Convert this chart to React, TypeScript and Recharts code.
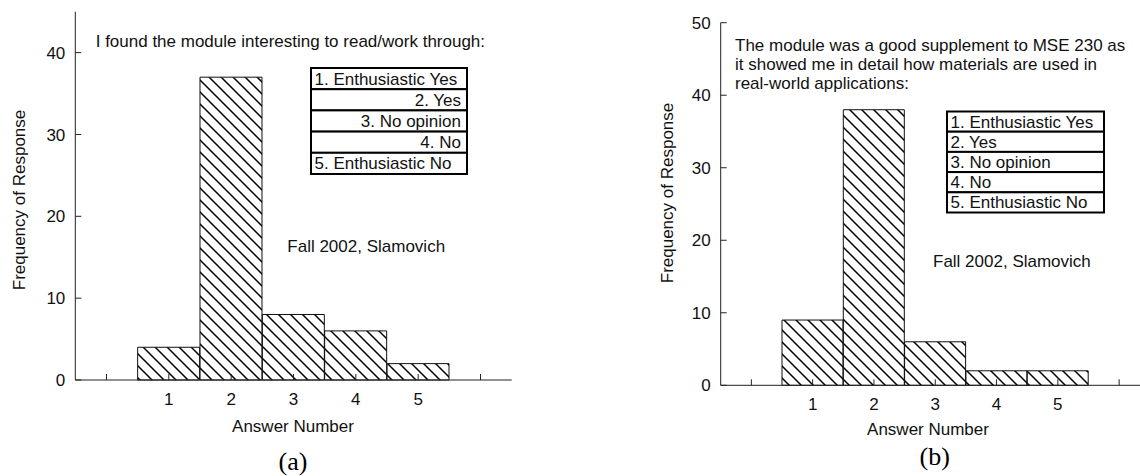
import React from "react";
import { Bar, BarChart, XAxis, YAxis } from "recharts";

// survey answers (x positions) and response counts
const answers = [1, 2, 3, 4, 5];
const freqA = [4, 37, 8, 6, 2];
const freqB = [9, 38, 6, 2, 2];

// axis ticks
const xTicks = [0, 1, 2, 3, 4, 5, 6];
const yTicksA = [0, 10, 20, 30, 40];
const yTicksB = [0, 10, 20, 30, 40, 50];

const legendItems = [
  "1. Enthusiastic Yes",
  "2. Yes",
  "3. No opinion",
  "4. No",
  "5. Enthusiastic No",
];
// panel (a) has some entries right-aligned
const legendAlignA = ["start", "end", "end", "end", "start"];

const titleA = ["I found the module interesting to read/work through:"];
const titleB = [
  "The module was a good supplement to MSE 230 as",
  "it showed me in detail how materials are used in",
  "real-world applications:",
];
const note = "Fall 2002, Slamovich";

const FONT = "'Liberation Sans', Arial, Helvetica, sans-serif";
const INK = "#111";

const dataA = answers.map((a, i) => ({ answer: a, freq: freqA[i] }));
const dataB = answers.map((a, i) => ({ answer: a, freq: freqB[i] }));

const tickStyle = { fontSize: 17, fill: INK, fontFamily: FONT };
const lineStyle = { stroke: "#222", strokeWidth: 1 };

function xLabel(v: number) {
  return answers.includes(v) ? String(v) : "";
}

function Hatch({ id }: { id: string }) {
  return (
    <defs>
      <pattern id={id} width="12" height="12" patternUnits="userSpaceOnUse">
        <path
          d="M0,0 L12,12 M-2,10 L2,14 M10,-2 L14,2"
          stroke="#000"
          strokeWidth={1.5}
        />
      </pattern>
    </defs>
  );
}

type PanelProps = {
  data: { answer: number; freq: number }[];
  yMax: number;
  yTicks: number[];
  hatchId: string;
  width: number;
  height: number;
  margin: { top: number; right: number; bottom: number; left: number };
  yAxisWidth: number;
};

function Panel(p: PanelProps) {
  return (
    <BarChart
      width={p.width}
      height={p.height}
      data={p.data}
      margin={p.margin}
      barCategoryGap={0}
      barGap={0}
    >
      <Hatch id={p.hatchId} />
      <XAxis
        xAxisId="bottom"
        dataKey="answer"
        type="number"
        domain={[-0.5, 6.5]}
        ticks={xTicks}
        interval={0}
        height={30}
        tickSize={-6}
        tickMargin={19}
        tickFormatter={xLabel}
        tick={tickStyle}
        axisLine={lineStyle}
        tickLine={lineStyle}
      />
      <XAxis
        xAxisId="top"
        orientation="top"
        dataKey="answer"
        type="number"
        domain={[-0.5, 6.5]}
        ticks={xTicks}
        interval={0}
        height={0}
        tickSize={-6}
        tick={false}
        axisLine={lineStyle}
        tickLine={lineStyle}
      />
      <YAxis
        yAxisId="left"
        type="number"
        domain={[0, p.yMax]}
        ticks={p.yTicks}
        interval={0}
        width={p.yAxisWidth}
        tickSize={-6}
        tickMargin={16}
        tick={tickStyle}
        axisLine={lineStyle}
        tickLine={lineStyle}
      />
      <YAxis
        yAxisId="right"
        orientation="right"
        type="number"
        domain={[0, p.yMax]}
        ticks={p.yTicks}
        interval={0}
        width={0}
        tickSize={-6}
        tick={false}
        axisLine={lineStyle}
        tickLine={lineStyle}
      />
      <Bar
        xAxisId="bottom"
        yAxisId="left"
        dataKey="freq"
        fill={`url(#${p.hatchId})`}
        stroke="#111"
        strokeWidth={1}
        isAnimationActive={false}
      />
    </BarChart>
  );
}

function LegendBox({
  x,
  y,
  w,
  rowH,
  align,
}: {
  x: number;
  y: number;
  w: number;
  rowH: number;
  align: string[];
}) {
  return (
    <g>
      {legendItems.map((t, i) => {
        const top = y + i * rowH;
        const end = align[i] === "end";
        return (
          <g key={t}>
            <rect x={x} y={top} width={w} height={rowH} fill="#fff" stroke="#000" strokeWidth={2} />
            <text
              x={end ? x + w - 6 : x + 3.5}
              y={top + rowH / 2 + 6}
              textAnchor={end ? "end" : "start"}
              fontSize={17}
              fontFamily={FONT}
              fill={INK}
            >
              {t}
            </text>
          </g>
        );
      })}
    </g>
  );
}

function Overlay() {
  const txt = { fontSize: 17, fontFamily: FONT, fill: INK };
  const serif = "'Liberation Serif', 'Times New Roman', serif";
  return (
    <svg
      width={1140}
      height={476}
      style={{ position: "absolute", left: 0, top: 0, pointerEvents: "none" }}
    >
      {/* panel (a) */}
      {titleA.map((t, i) => (
        <text key={t} x={95.7} y={47 + i * 19.2} {...txt}>
          {t}
        </text>
      ))}
      <LegendBox x={311} y={68} w={156} rowH={21.2} align={legendAlignA} />
      <text x={287.3} y={252} {...txt}>
        {note}
      </text>
      <text x={293} y={432} textAnchor="middle" {...txt}>
        Answer Number
      </text>
      <text x={25} y={200} textAnchor="middle" transform="rotate(-90 25 200)" {...txt}>
        Frequency of Response
      </text>
      <text x={293} y={470} textAnchor="middle" fontSize={26} fontFamily={serif} fill="#000">
        (a)
      </text>

      {/* panel (b) */}
      {titleB.map((t, i) => (
        <text key={t} x={735} y={51 + i * 19.2} {...txt}>
          {t}
        </text>
      ))}
      <LegendBox
        x={947}
        y={111.5}
        w={157}
        rowH={20.2}
        align={["start", "start", "start", "start", "start"]}
      />
      <text x={933} y={267} {...txt}>
        {note}
      </text>
      <text x={928} y={435} textAnchor="middle" {...txt}>
        Answer Number
      </text>
      <text x={673} y={193} textAnchor="middle" transform="rotate(-90 673 193)" {...txt}>
        Frequency of Response
      </text>
      <text x={934.7} y={465} textAnchor="middle" fontSize={26} fontFamily={serif} fill="#000">
        (b)
      </text>
    </svg>
  );
}

export default function App() {
  return (
    <div
      style={{
        position: "fixed",
        left: 0,
        top: 0,
        width: 1140,
        height: 476,
        overflow: "hidden",
        background: "#fff",
      }}
    >
      <div style={{ position: "absolute", left: 0, top: 0 }}>
        <Panel
          data={dataA}
          yMax={45}
          yTicks={yTicksA}
          hatchId="hatchA"
          width={560}
          height={476}
          margin={{ top: 11.7, right: 48.3, bottom: 66, left: 0 }}
          yAxisWidth={75.3}
        />
      </div>
      <div style={{ position: "absolute", left: 620, top: 0 }}>
        <Panel
          data={dataB}
          yMax={50}
          yTicks={yTicksB}
          hatchId="hatchB"
          width={560}
          height={476}
          margin={{ top: 22.7, right: 30.2, bottom: 60.7, left: 0 }}
          yAxisWidth={100.7}
        />
      </div>
      <Overlay />
    </div>
  );
}
